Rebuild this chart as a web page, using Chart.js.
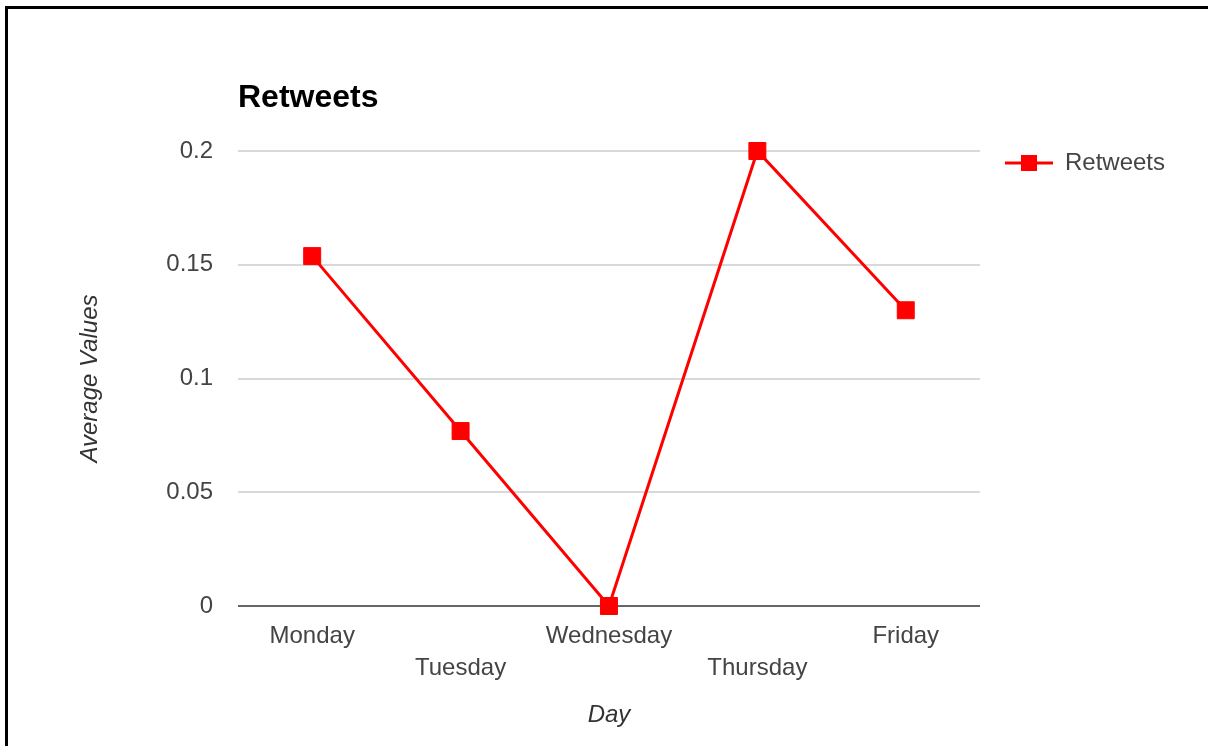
<!DOCTYPE html>
<html lang="en">
<head>
  <meta charset="UTF-8">
  <title>Retweets</title>
  <style>
    body {
      margin: 0;
      background: #fff;
      overflow: hidden;
    }
    #frame {
      position: absolute;
      left: 5px;
      top: 6px;
      width: 1220px;
      height: 760px;
      border-left: 3px solid #000;
      border-top: 3px solid #000;
      pointer-events: none;
    }
    #chart {
      position: absolute;
      left: 0;
      top: 0;
    }
  </style>
</head>
<body>

<canvas id="chart" width="1208" height="746"></canvas>
<div id="frame"></div>

<script src="https://cdn.jsdelivr.net/npm/chart.js"></script>
<script>

const days = ["Monday", "Tuesday", "Wednesday", "Thursday", "Friday"];
const retweets = [0.1538, 0.0769, 0, 0.2, 0.13];
const yTicks = ["0", "0.05", "0.1", "0.15", "0.2"];

const RED = "#ff0000";

Chart.defaults.font.family = "'Liberation Sans', Arial, sans-serif";
Chart.defaults.font.size = 24;
Chart.defaults.color = "#444";

// legend symbol: short line with a square on it, left margin leaves a gap from the plot
function legendSymbol() {
  const c = document.createElement("canvas");
  c.width = 73;
  c.height = 18;
  const g = c.getContext("2d");
  g.strokeStyle = RED;
  g.lineWidth = 3;
  g.beginPath();
  g.moveTo(25, 9);
  g.lineTo(73, 9);
  g.stroke();
  g.fillStyle = RED;
  g.fillRect(41, 1, 16, 16);
  return c;
}

const symbol = legendSymbol();

new Chart(document.getElementById("chart"), {
  type: "line",
  data: {
    labels: days,
    datasets: [{
      label: "Retweets",
      data: retweets,
      borderColor: RED,
      backgroundColor: RED,
      borderWidth: 3,
      tension: 0,
      pointStyle: "rect",
      pointRadius: 12,
      pointHoverRadius: 12,
      pointBorderWidth: 1,
      clip: false
    }]
  },
  options: {
    responsive: false,
    animation: false,
    layout: {
      padding: { left: 0, top: 0, right: 33, bottom: 0 }
    },
    plugins: {
      title: {
        display: true,
        text: "Retweets",
        align: "start",
        fullSize: false,
        color: "#000",
        font: { size: 32, weight: "bold", lineHeight: 1.2 },
        padding: { top: 79, bottom: 33.6 }
      },
      legend: {
        position: "right",
        align: "start",
        fullSize: false,
        labels: {
          usePointStyle: true,
          pointStyleWidth: 73,
          padding: 0,
          color: "#444",
          font: { size: 24 },
          generateLabels: chart => chart.data.datasets.map((ds, i) => ({
            text: ds.label,
            pointStyle: symbol,
            fontColor: "#444",
            hidden: false,
            datasetIndex: i
          }))
        }
      },
      tooltip: { enabled: false }
    },
    scales: {
      x: {
        offset: true,
        grid: { display: false, drawTicks: false },
        border: { display: false },
        ticks: {
          autoSkip: false,
          maxRotation: 0,
          padding: 14,
          color: "#444",
          font: { size: 24, lineHeight: 32 / 24 },
          // alternate labels between two rows
          callback: (v, i) => i % 2 ? ["", days[i]] : days[i]
        },
        title: {
          display: true,
          text: "Day",
          color: "#333",
          font: { size: 24, style: "italic" },
          padding: { bottom: 16 }
        },
        afterFit: scale => { scale.height = 140; }
      },
      y: {
        min: 0,
        max: 0.2,
        grid: {
          drawTicks: false,
          lineWidth: 2,
          color: ctx => ctx.tick && ctx.tick.value === 0 ? "#666" : "#d9d9d9"
        },
        border: { display: false },
        ticks: {
          stepSize: 0.05,
          padding: 25,
          color: "#444",
          font: { size: 24 },
          callback: (v, i) => yTicks[i]
        },
        title: {
          display: true,
          text: "Average Values",
          color: "#333",
          font: { size: 24, style: "italic" },
          padding: { top: 76 }
        },
        afterFit: scale => { scale.width = 238; }
      }
    }
  }
});

</script>

</body>
</html>
